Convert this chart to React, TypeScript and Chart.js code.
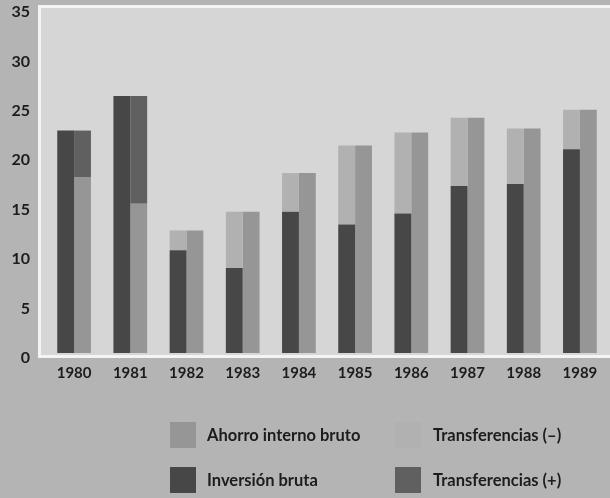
import React, { useEffect, useRef } from "react";
import { Chart, registerables } from "chart.js";

Chart.register(...registerables);

const years = ["1980", "1981", "1982", "1983", "1984", "1985", "1986", "1987", "1988", "1989"];
const inversionBruta = [22.5, 26.0, 10.4, 8.6, 14.3, 13.0, 14.1, 16.9, 17.1, 20.6];
const transferenciasMenos = [0, 0, 2.0, 5.7, 3.9, 8.0, 8.2, 6.9, 5.6, 4.0];
const ahorroInterno = [17.8, 15.1, 12.4, 14.3, 18.2, 21.0, 22.3, 23.8, 22.7, 24.6];
const transferenciasMas = [4.7, 10.9, 0, 0, 0, 0, 0, 0, 0, 0];
const yTicks = [0, 5, 10, 15, 20, 25, 30, 35];

const C_INV = "#474747";
const C_TMENOS = "#b1b1b1";
const C_AHORRO = "#969696";
const C_TMAS = "#606060";
const OUTER = "#b4b4b4";
const PANEL = "#d6d6d6";
const FONT = "Lato, 'DejaVu Sans', sans-serif";

const bgPlugin = {
  id: "bgPanel",
  beforeDraw(chart: any) {
    const { ctx, chartArea } = chart;
    ctx.save();
    ctx.fillStyle = OUTER;
    ctx.fillRect(0, 0, chart.width, chart.height);
    const left = chartArea.left - 6;
    const top = chartArea.top;
    const bottom = chartArea.bottom + 2;
    const right = chart.width;
    ctx.fillStyle = PANEL;
    ctx.fillRect(left, top, right - left, bottom - top);
    ctx.fillStyle = "#f4f4f4";
    ctx.fillRect(left - 2, top - 2, right - left + 2, 3);
    ctx.fillRect(left - 2, top - 2, 3, bottom - top + 5);
    ctx.fillRect(left - 2, bottom, right - left + 2, 3);
    ctx.restore();
  },
};

export default function App() {
  const ref = useRef<HTMLCanvasElement | null>(null);

  useEffect(() => {
    document.body.style.margin = "0";
    document.body.style.background = OUTER;
    if (!ref.current) return;
    const chart = new Chart(ref.current, {
      type: "bar",
      data: {
        labels: years,
        datasets: [
          { label: "Inversión bruta", data: inversionBruta, backgroundColor: C_INV, stack: "a" },
          { label: "Transferencias (–)", data: transferenciasMenos, backgroundColor: C_TMENOS, stack: "a" },
          { label: "Ahorro interno bruto", data: ahorroInterno, backgroundColor: C_AHORRO, stack: "b" },
          { label: "Transferencias (+)", data: transferenciasMas, backgroundColor: C_TMAS, stack: "b" },
        ],
      },
      options: {
        animation: false,
        responsive: false,
        maintainAspectRatio: false,
        layout: { padding: { top: 7, right: 2, left: 0, bottom: 0 } },
        datasets: { bar: { categoryPercentage: 0.6, barPercentage: 1.0, borderWidth: 0 } },
        plugins: { legend: { display: false }, tooltip: { enabled: false } },
        scales: {
          x: {
            stacked: true,
            grid: { display: false, drawTicks: false },
            border: { display: false },
            ticks: { color: "#1c1c1c", font: { family: FONT, size: 15, weight: "bold" }, padding: 11 },
            afterFit(scale: any) {
              scale.height = 145;
              scale.paddingLeft = 0;
              scale.paddingRight = 0;
            },
          },
          y: {
            stacked: true,
            min: 0,
            max: 35,
            afterBuildTicks(scale: any) {
              scale.ticks = yTicks.map((v) => ({ value: v }));
            },
            grid: { display: false, drawTicks: false },
            border: { display: false },
            ticks: {
              color: "#1c1c1c",
              font: { family: FONT, size: 16, weight: "bold" },
              padding: 16,
              labelOffset: 5,
            },
            afterFit(scale: any) {
              scale.width = 46;
              scale.paddingTop = 0;
              scale.paddingBottom = 0;
            },
          },
        },
      },
      plugins: [bgPlugin],
    } as any);
    return () => chart.destroy();
  }, []);

  const legendItems = [
    { label: "Ahorro interno bruto", color: C_AHORRO, x: 170, y: 422, tx: 207 },
    { label: "Transferencias (–)", color: C_TMENOS, x: 395, y: 422, tx: 433 },
    { label: "Inversión bruta", color: C_INV, x: 170, y: 467, tx: 207 },
    { label: "Transferencias (+)", color: C_TMAS, x: 395, y: 467, tx: 433 },
  ];

  return (
    <div style={{ position: "relative", width: 610, height: 498, background: OUTER, overflow: "hidden" }}>
      <canvas ref={ref} width={610} height={498} style={{ display: "block" }} />
      {legendItems.map((it) => (
        <React.Fragment key={it.label}>
          <div
            style={{
              position: "absolute",
              left: it.x,
              top: it.y,
              width: 26,
              height: 26,
              background: it.color,
            }}
          />
          <div
            style={{
              position: "absolute",
              left: it.tx,
              top: it.y,
              height: 26,
              lineHeight: "26px",
              fontFamily: FONT,
              fontWeight: "bold",
              fontSize: 16.5,
              color: "#1c1c1c",
              whiteSpace: "nowrap",
            }}
          >
            {it.label}
          </div>
        </React.Fragment>
      ))}
    </div>
  );
}
